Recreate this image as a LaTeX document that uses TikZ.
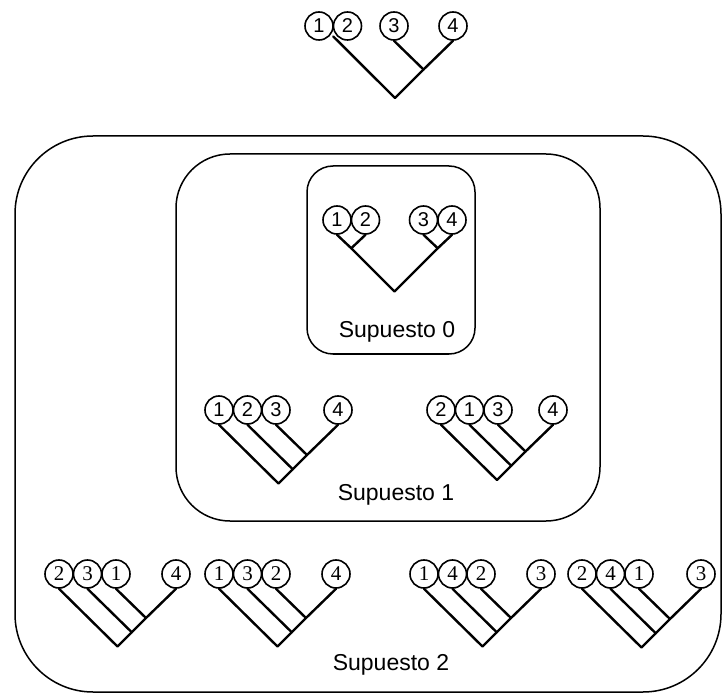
\documentclass[tikz,border=0pt]{standalone}
\usepackage{fontspec}
\setmainfont{Liberation Sans}
\newfontfamily\serifdigits{Liberation Serif}
\usetikzlibrary{calc}

\tikzset{
	leaf/.style={draw, circle, line width=0.8pt, minimum size=14pt, inner sep=0pt, font=\fontsize{10}{10}\selectfont},
	leafrm/.style={leaf, font=\serifdigits\fontsize{10.5}{10}\selectfont},
	branch/.style={line width=1.2pt, line cap=round, line join=round},
	boxline/.style={line width=0.75pt},
	casename/.style={anchor=base, font=\fontsize{11.5}{13}\selectfont}
}

\begin{document}
\begin{tikzpicture}[x=0.5pt, y=-0.5pt]
		\useasboundingbox (0, 0) rectangle (723, 695);

		% marcos redondeados de los tres supuestos
		\draw[boxline, rounded corners=39pt] (15, 136) rectangle (721, 692);
		\draw[boxline, rounded corners=27pt] (176, 154) rectangle (600, 521);
		\draw[boxline, rounded corners=13pt] (307, 166) rectangle (475, 354);

		% arbol de arriba
		\node[leaf] (t1) at (319, 26) {1};
		\node[leaf] (t2) at (347.5, 26) {2};
		\node[leaf] (t3) at (394, 26) {3};
		\node[leaf] (t4) at (453, 26) {4};
		\coordinate (t12) at ($(t1.south east)!0.5!(t2.south west)$);
		\coordinate (top-r) at (395, 98);
		\coordinate (top-j) at (423.5, 69.5);
		\draw[branch] (t12) -- (top-r) -- (top-j) -- (t4.south);
		\draw[branch] (t3.south) -- (top-j);

		% supuesto 0
		\node[leaf] (s1) at (337, 220) {1};
		\node[leaf] (s2) at (365.5, 220) {2};
		\node[leaf] (s3) at (423.5, 220) {3};
		\node[leaf] (s4) at (452, 220) {4};
		\coordinate (s0-r) at (394.5, 291.5);
		\coordinate (s0-j12) at (351.25, 248.25);
		\coordinate (s0-j34) at (437.75, 248.25);
		\draw[branch] (s1.south) -- (s0-j12) -- (s0-r) -- (s0-j34) -- (s4.south);
		\draw[branch] (s2.south) -- (s0-j12);
		\draw[branch] (s3.south) -- (s0-j34);
		\node[casename] (cap0) at (397, 337) {Supuesto 0};

		% supuestos 1 y 2: tres hojas juntas y una aparte
		\foreach \n/\st/\y/\xa/\xd/\la/\lb/\lc/\ld in {
				pa/leaf/410/219/338/1/2/3/4,
				pb/leaf/410/441/553/2/1/3/4,
				qa/leafrm/574/59/176/2/3/1/4,
				qb/leafrm/574/219/336/1/3/2/4,
				qc/leafrm/574/424/541/1/4/2/3,
				qd/leafrm/574/582/701/2/4/1/3} {
				\node[\st] (\n-a) at (\xa, \y) {\la};
				\node[\st] (\n-b) at ({\xa + 28.5}, \y) {\lb};
				\node[\st] (\n-c) at ({\xa + 57}, \y) {\lc};
				\node[\st] (\n-d) at (\xd, \y) {\ld};
				% ramas a 45 grados
				\coordinate (\n-r) at ({(\xa + \xd) / 2}, {\y + 14 + (\xd - \xa) / 2});
				\coordinate (\n-jb) at ({(\xa + 28.5 + \xd) / 2}, {\y + 14 + (\xd - \xa - 28.5) / 2});
				\coordinate (\n-jc) at ({(\xa + 57 + \xd) / 2}, {\y + 14 + (\xd - \xa - 57) / 2});
				\draw[branch] (\n-a.south) -- (\n-r) -- (\n-jb) -- (\n-jc) -- (\n-d.south);
				\draw[branch] (\n-b.south) -- (\n-jb);
				\draw[branch] (\n-c.south) -- (\n-jc);
			}

		\node[casename] (cap1) at (396, 500) {Supuesto 1};
		\node[casename] (cap2) at (391, 670) {Supuesto 2};
	\end{tikzpicture}
\end{document}
